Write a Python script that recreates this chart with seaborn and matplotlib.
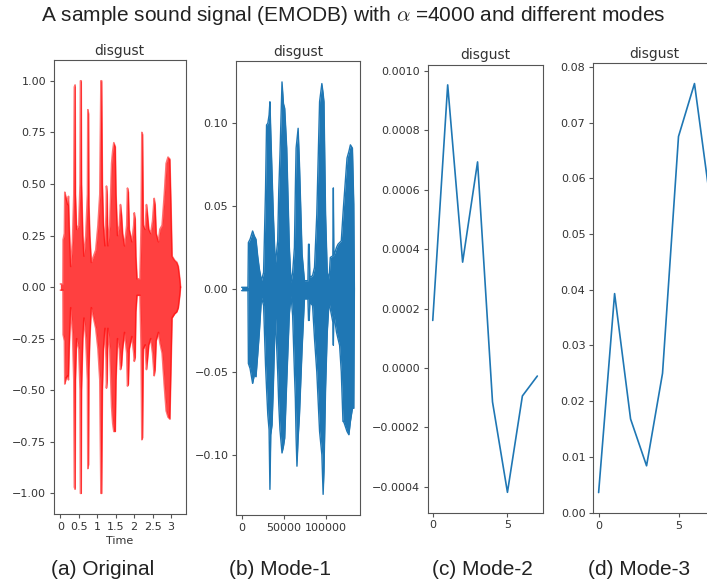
import numpy as np
import pandas as pd
import matplotlib
matplotlib.use("Agg")
import matplotlib.pyplot as plt
from matplotlib.ticker import MultipleLocator
import seaborn as sns

# ---- data -----------------------------------------------------------------
emotion = "disgust"
captions = ["(a) Original", "(b) Mode-1", "(c) Mode-2", "(d) Mode-3"]

# original waveform envelope (time in s, upper / lower amplitude)
orig_t = [0.00, 0.07, 0.075, 0.11, 0.12, 0.16, 0.20, 0.22, 0.24, 0.28, 0.33, 0.365,
          0.38, 0.40, 0.41, 0.44, 0.50, 0.535, 0.545, 0.565, 0.575, 0.61, 0.64, 0.69,
          0.735, 0.745, 0.765, 0.775, 0.80, 0.84, 0.90, 0.96, 1.02, 1.07, 1.10, 1.12,
          1.14, 1.17, 1.21, 1.24, 1.25, 1.27, 1.29, 1.34, 1.39, 1.42, 1.45, 1.49,
          1.51, 1.55, 1.60, 1.63, 1.66, 1.69, 1.74, 1.80, 1.82, 1.845, 1.87, 1.94,
          1.99, 2.005, 2.03, 2.05, 2.08, 2.16, 2.19, 2.21, 2.23, 2.25, 2.30, 2.335,
          2.36, 2.40, 2.45, 2.50, 2.545, 2.57, 2.60, 2.66, 2.70, 2.76, 2.82, 2.87,
          2.92, 2.97, 3.00, 3.03, 3.10, 3.16, 3.20, 3.24, 3.26]
orig_hi = [0.015, 0.015, 0.23, 0.26, 0.46, 0.43, 0.40, 0.44, 0.30, 0.10, 0.22, 0.45,
           0.97, 0.98, 0.45, 0.28, 0.30, 0.50, 1.00, 1.00, 0.50, 0.25, 0.15, 0.25,
           0.45, 0.86, 0.84, 0.40, 0.25, 0.12, 0.15, 0.18, 0.30, 0.45, 1.00, 1.00,
           0.50, 0.30, 0.20, 0.35, 0.49, 0.45, 0.20, 0.30, 0.60, 0.66, 0.70, 0.68,
           0.45, 0.25, 0.30, 0.40, 0.35, 0.26, 0.20, 0.30, 0.48, 0.46, 0.28, 0.22,
           0.30, 0.36, 0.33, 0.15, 0.04, 0.04, 0.30, 0.75, 0.74, 0.30, 0.28, 0.40,
           0.36, 0.28, 0.26, 0.32, 0.43, 0.40, 0.26, 0.22, 0.28, 0.30, 0.45, 0.60,
           0.63, 0.62, 0.40, 0.15, 0.13, 0.12, 0.10, 0.04, 0.00]
orig_lo = [-0.015, -0.015, -0.23, -0.26, -0.47, -0.44, -0.43, -0.45, -0.30, -0.10, -0.22, -0.45,
           -0.97, -0.98, -0.45, -0.25, -0.30, -0.50, -1.00, -1.00, -0.50, -0.25, -0.15, -0.25,
           -0.45, -0.88, -0.86, -0.40, -0.25, -0.10, -0.15, -0.20, -0.30, -0.45, -1.00, -1.00,
           -0.50, -0.30, -0.20, -0.35, -0.49, -0.45, -0.20, -0.30, -0.58, -0.66, -0.70, -0.70,
           -0.45, -0.25, -0.30, -0.40, -0.38, -0.30, -0.22, -0.32, -0.48, -0.47, -0.30, -0.24,
           -0.32, -0.36, -0.34, -0.12, -0.04, -0.04, -0.30, -0.74, -0.73, -0.30, -0.28, -0.40,
           -0.36, -0.28, -0.25, -0.32, -0.43, -0.40, -0.26, -0.22, -0.27, -0.32, -0.48, -0.60,
           -0.63, -0.64, -0.40, -0.15, -0.13, -0.12, -0.10, -0.04, 0.00]
time_ticks = [0, 0.5, 1, 1.5, 2, 2.5, 3]
time_labels = ["0", "0.5", "1", "1.5", "2", "2.5", "3"]

# mode-1 envelope (sample index, upper / lower amplitude)
mode1_n = [0, 7500, 8000, 10000, 13000, 15000, 17000, 19000, 21000, 23500, 26000,
           28300, 29500, 31000, 32500, 33500, 34500, 36000, 37500, 39900, 42700,
           44000, 45400, 47800, 49500, 51000, 53400, 56500, 58500, 60400, 62500,
           63600, 64500, 65500, 66900, 68500, 71600, 74400, 78500, 79200, 80000,
           80800, 84000, 86300, 89000, 92300, 95000, 96500, 97500, 99400, 101400,
           103500, 105000, 108000, 108600, 109200, 112300, 114100, 116000, 118000,
           120000, 120800, 124800, 127000, 128800, 131200, 132800, 133500]
mode1_hi = [0.001, 0.001, 0.028, 0.030, 0.035, 0.032, 0.030, 0.020, 0.012, 0.005, 0.010,
            0.060, 0.099, 0.100, 0.105, 0.113, 0.095, 0.070, 0.045, 0.015, 0.029,
            0.060, 0.081, 0.125, 0.112, 0.109, 0.085, 0.025, 0.004, 0.010, 0.025,
            0.060, 0.085, 0.090, 0.097, 0.075, 0.021, 0.005, 0.005, 0.027, 0.027,
            0.007, 0.008, 0.013, 0.045, 0.113, 0.124, 0.118, 0.113, 0.045, 0.010,
            0.006, 0.019, 0.020, 0.061, 0.020, 0.025, 0.027, 0.028, 0.029,
            0.045, 0.051, 0.079, 0.083, 0.087, 0.085, 0.051, 0.000]
mode1_lo = [-0.001, -0.001, -0.045, -0.048, -0.057, -0.052, -0.053, -0.040, -0.026, -0.005, -0.010,
            -0.046, -0.060, -0.076, -0.085, -0.121, -0.088, -0.082, -0.060, -0.015, -0.050,
            -0.070, -0.085, -0.099, -0.095, -0.090, -0.056, -0.015, -0.004, -0.016, -0.050,
            -0.066, -0.090, -0.107, -0.090, -0.076, -0.036, -0.006, -0.006, -0.019, -0.019,
            -0.008, -0.010, -0.030, -0.050, -0.086, -0.100, -0.124, -0.110, -0.060, -0.026,
            -0.008, -0.012, -0.020, -0.034, -0.015, -0.026, -0.030, -0.034, -0.050,
            -0.080, -0.080, -0.086, -0.088, -0.080, -0.072, -0.072, 0.000]
mode1_ticks = [0, 50000, 100000]

# modes 2 and 3 (8 coefficients each)
mode_idx = [0, 1, 2, 3, 4, 5, 6, 7]
mode2 = [0.00016, 0.000952, 0.000356, 0.000693, -0.000114, -0.000418, -0.000094, -0.000027]
mode3 = [0.0036, 0.0393, 0.0168, 0.0084, 0.0250, 0.0675, 0.0770, 0.0556]

# ---- style ----------------------------------------------------------------
sns.set_style("ticks")
plt.rcParams.update({
    "font.family": ["DejaVu Sans"],
    "axes.edgecolor": "#555555",
    "axes.linewidth": 0.8,
    "xtick.color": "#555555",
    "ytick.color": "#555555",
    "xtick.labelcolor": "#333333",
    "ytick.labelcolor": "#333333",
    "xtick.labelsize": 8,
    "ytick.labelsize": 8,
    "xtick.major.size": 3,
    "ytick.major.size": 3,
    "xtick.major.width": 0.8,
    "ytick.major.width": 0.8,
    "xtick.major.pad": 2.5,
    "ytick.major.pad": 2.5,
    "mathtext.fontset": "cm",
})

BLUE = "#1f77b4"
fig = plt.figure(figsize=(7.07, 5.86), dpi=100)

ax_a = fig.add_axes([0.0760, 0.1229, 0.1867, 0.7744])
ax_b = fig.add_axes([0.3338, 0.1212, 0.1754, 0.7742])
ax_c = fig.add_axes([0.6047, 0.1251, 0.1627, 0.7648])
ax_d = fig.add_axes([0.8388, 0.1246, 0.1740, 0.7677])

# (a) original waveform
ax_a.fill_between(orig_t, orig_lo, orig_hi, color="red", alpha=0.75, lw=0)
sns.lineplot(x=orig_t, y=orig_hi, ax=ax_a, color="red", lw=1.2, alpha=0.55)
sns.lineplot(x=orig_t, y=orig_lo, ax=ax_a, color="red", lw=1.2, alpha=0.55)
ax_a.set_xlim(-0.18, 3.40)
ax_a.set_ylim(-1.1, 1.1)
ax_a.yaxis.set_major_locator(MultipleLocator(0.25))
ax_a.set_xticks(time_ticks)
ax_a.set_xticklabels(time_labels)

# (b) mode-1
ax_b.fill_between(mode1_n, mode1_lo, mode1_hi, color=BLUE, lw=0)
sns.lineplot(x=mode1_n, y=mode1_hi, ax=ax_b, color=BLUE, lw=1.0)
sns.lineplot(x=mode1_n, y=mode1_lo, ax=ax_b, color=BLUE, lw=1.0)
ax_b.margins(x=0.05, y=0.05)
ax_b.set_xticks(mode1_ticks)
ax_b.yaxis.set_major_locator(MultipleLocator(0.05))

# (c) mode-2 and (d) mode-3
sns.lineplot(x=mode_idx, y=mode2, ax=ax_c, color=BLUE, lw=1.2)
ax_c.yaxis.set_major_locator(MultipleLocator(0.0002))
sns.lineplot(x=mode_idx, y=mode3, ax=ax_d, color=BLUE, lw=1.2)
ax_d.yaxis.set_major_locator(MultipleLocator(0.01))
for ax in (ax_c, ax_d):
    ax.set_xticks([0, 5])

for ax in (ax_a, ax_b, ax_c, ax_d):
    ax.set_title(emotion, fontsize=10, color="#333333", pad=4)
    ax.set_xlabel("")
    ax.set_ylabel("")
ax_a.set_xlabel("Time", fontsize=8, color="#333333", labelpad=3)

fig.text(0.5, 0.974,
         r"A sample sound signal (EMODB) with $\alpha$ =4000 and different modes",
         ha="center", va="center", fontsize=15, family="Liberation Sans", color="#222222")

caption_x = [102.5, 280, 482.5, 639]
for cx, cap in zip(caption_x, captions):
    fig.text(cx / 707, 0.029, cap, ha="center", va="center", fontsize=15,
             family="Liberation Sans", color="#222222")

fig.savefig("out.png", dpi=100)
